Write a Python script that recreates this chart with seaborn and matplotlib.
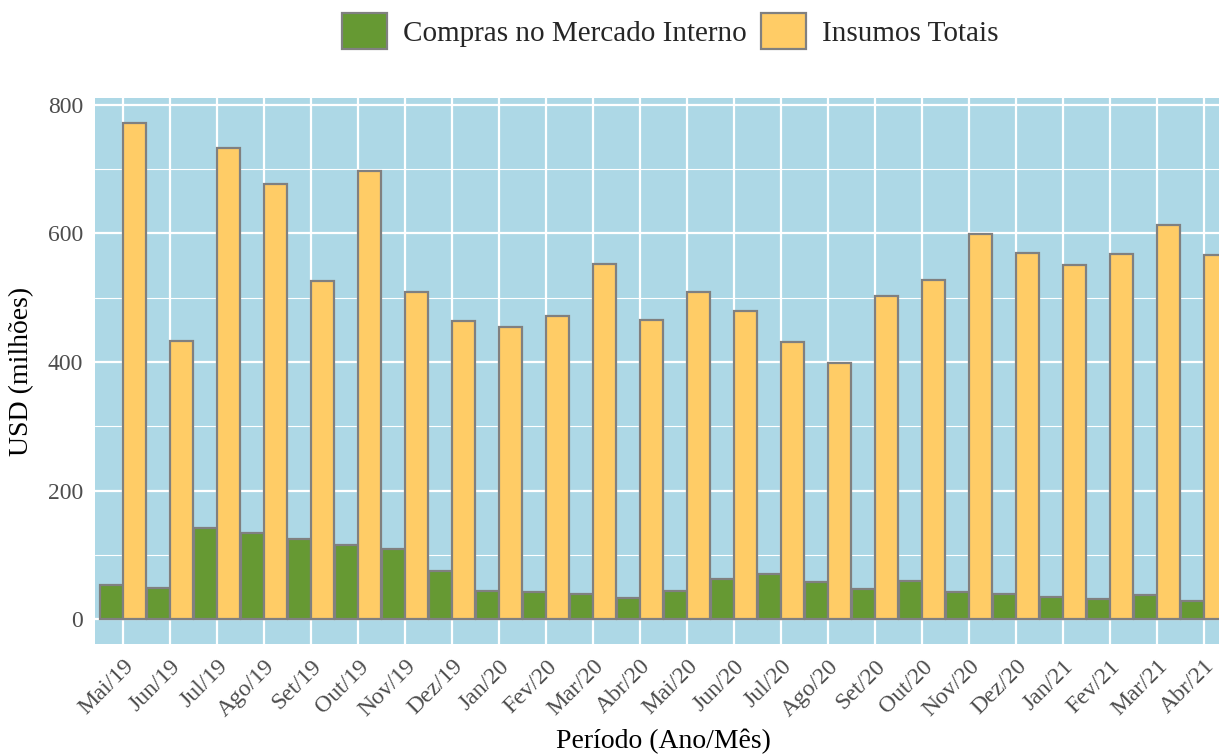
import seaborn as sns
import pandas as pd
import matplotlib.pyplot as plt
from matplotlib.ticker import MultipleLocator

periodos = ['Mai/19', 'Jun/19', 'Jul/19', 'Ago/19', 'Set/19', 'Out/19', 'Nov/19', 'Dez/19',
            'Jan/20', 'Fev/20', 'Mar/20', 'Abr/20', 'Mai/20', 'Jun/20', 'Jul/20', 'Ago/20',
            'Set/20', 'Out/20', 'Nov/20', 'Dez/20', 'Jan/21', 'Fev/21', 'Mar/21', 'Abr/21']
compras = [53, 48, 142, 134, 124, 116, 109, 75, 44, 42, 39, 33,
           44, 63, 71, 58, 47, 60, 43, 39, 34, 31, 37, 29]
insumos = [772, 432, 733, 677, 526, 697, 509, 463, 454, 471, 552, 466,
           509, 479, 431, 399, 502, 527, 599, 569, 551, 568, 613, 566]
series = ['Compras no Mercado Interno', 'Insumos Totais']
cores = ['#669933', '#FFCC66']

df = pd.DataFrame({
    'periodo': periodos * 2,
    'valor': compras + insumos,
    'serie': [series[0]] * len(periodos) + [series[1]] * len(periodos),
})

sns.set_style('white')
plt.rcParams['font.family'] = ['Liberation Serif', 'DejaVu Serif']

fig = plt.figure(figsize=(12.19, 7.55), dpi=100)
# panel is wider than the image on purpose: the reference is cropped on the right
ax = fig.add_axes([95 / 1219, 111 / 755, 1137 / 1219, 546 / 755])

sns.barplot(data=df, x='periodo', y='valor', hue='serie', order=periodos,
            hue_order=series, palette=cores, saturation=1, dodge=True, width=0.97,
            edgecolor='#808080', linewidth=1.6, ax=ax, zorder=3)

ax.set_facecolor('#ADD8E6')
ax.set_xlim(-0.6, len(periodos) - 0.4)
ax.set_ylim(-38.6, 810.6)
ax.yaxis.set_major_locator(MultipleLocator(200))
ax.yaxis.set_minor_locator(MultipleLocator(100))
ax.grid(which='major', axis='both', color='white', linewidth=1.6, zorder=0)
ax.grid(which='minor', axis='y', color='white', linewidth=0.8, zorder=0)
ax.set_axisbelow(True)
for s in ax.spines.values():
    s.set_visible(False)

ax.tick_params(axis='both', which='major', length=5.5, width=1.6, color='#333333',
               labelsize=17, labelcolor='#4D4D4D', pad=3)
ax.tick_params(axis='y', which='minor', length=0)
plt.setp(ax.get_xticklabels(), rotation=45, ha='right', va='top', rotation_mode='anchor')

ax.set_xlabel('Período (Ano/Mês)', fontsize=20, color='black', va='center')
ax.set_ylabel('USD (milhões)', fontsize=20, color='black', va='center')
ax.xaxis.set_label_coords((663 - 95) / 1137, (644 - 741) / 546)
ax.yaxis.set_label_coords((22 - 95) / 1137, 0.5)

handles, labels = ax.get_legend_handles_labels()
ax.legend_.remove()
fig.legend(handles, labels, loc='center', bbox_to_anchor=(670 / 1219, 1 - 31 / 755),
           ncol=2, frameon=False, fontsize=21, handlelength=1.54, handleheight=1.54,
           handletextpad=0.55, columnspacing=0.5, borderpad=0)

plt.savefig('out.png', dpi=100)
plt.close(fig)
